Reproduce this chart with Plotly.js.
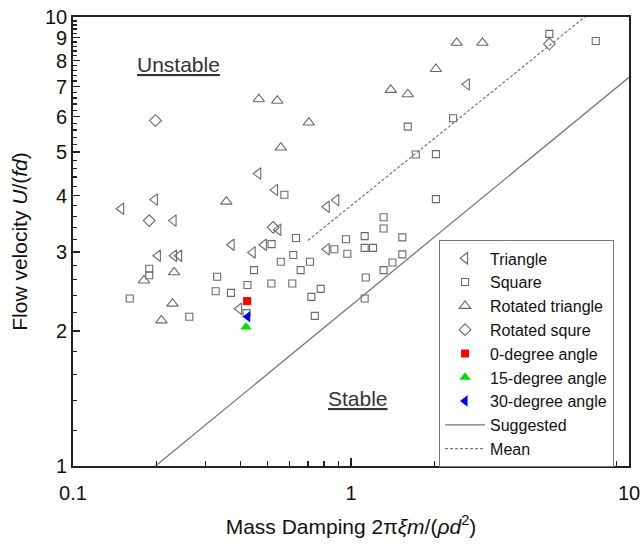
<!DOCTYPE html>
<html>
<head>
<meta charset="utf-8">
<script src="https://cdn.plot.ly/plotly-3.0.1.min.js"></script>
<style>html,body{margin:0;padding:0;background:#fff;}#chart{width:643px;height:544px;}</style>
</head>
<body>
<div id="chart"></div>
<script>
// Triangle (left-pointing)
var triX = [0.149, 0.197, 0.230, 0.202, 0.231, 0.241, 0.464, 0.533, 0.548, 0.372, 0.486, 0.443, 0.818, 0.885, 0.818, 0.396, 2.61];
var triY = [3.74, 3.92, 3.52, 2.94, 2.94, 2.94, 4.48, 4.12, 3.36, 3.11, 3.11, 2.99, 3.78, 3.91, 3.04, 2.24, 7.08];
// Square
var sqX = [0.576, 0.634, 0.959, 0.518, 0.871, 0.970, 0.620, 0.559, 0.712, 0.659, 0.448, 0.188, 0.188, 0.330, 0.424, 0.517, 0.615, 0.326, 0.370, 0.778, 0.720, 0.160, 0.262, 0.741, 0.421, 1.12, 1.31, 1.31, 1.53, 1.12, 1.20, 1.53, 1.41, 1.31, 1.13, 1.12, 2.02, 1.71, 2.02, 1.60, 2.33, 5.17, 7.59];
var sqY = [4.02, 3.22, 3.20, 3.12, 3.04, 2.97, 2.95, 2.85, 2.85, 2.73, 2.73, 2.75, 2.66, 2.64, 2.53, 2.55, 2.55, 2.45, 2.43, 2.48, 2.38, 2.36, 2.15, 2.16, 2.19, 3.25, 3.58, 3.38, 3.23, 3.06, 3.06, 2.96, 2.84, 2.73, 2.63, 2.36, 3.93, 4.94, 4.95, 5.70, 5.95, 9.17, 8.84];
// Rotated triangle
var rtX = [0.466, 0.543, 0.705, 0.559, 0.356, 0.231, 0.180, 0.228, 0.208, 2.40, 2.97, 2.02, 1.39, 1.60];
var rtY = [6.56, 6.51, 5.82, 5.12, 3.88, 2.70, 2.59, 2.30, 2.11, 8.76, 8.76, 7.66, 6.88, 6.73];
// Rotated square
var rsX = [0.198, 0.188, 0.525, 5.17];
var rsY = [5.88, 3.52, 3.40, 8.71];
// Angle cases
var a0X = [0.423], a0Y = [2.33];
var a15X = [0.419], a15Y = [2.04];
var a30X = [0.425], a30Y = [2.15];
// Lines
var sugX = [0.198, 10], sugY = [1, 7.34];
var meanX = [0.70, 6.93], meanY = [3.18, 10];
// Ticks
var xMajor = [0.1, 1, 10], xMajorText = ['0.1', '1', '10'];
var xMinor = [0.2, 0.3, 0.4, 0.5, 0.6, 0.7, 0.8, 0.9, 2, 3, 4, 5, 6, 7, 8, 9];
var yMajor = [1, 2, 3, 4, 5, 6, 7, 8, 9, 10], yMajorText = ['1','2','3','4','5','6','7','8','9','10'];
var yMinor = [1.2,1.4,1.6,1.8,2.2,2.4,2.6,2.8,3.2,3.4,3.6,3.8,4.2,4.4,4.6,4.8,5.2,5.4,5.6,5.8,6.2,6.4,6.6,6.8,7.2,7.4,7.6,7.8,8.2,8.4,8.6,8.8,9.2,9.4,9.6,9.8];

var gray = '#6a6a6a';
function mk(sym, size, color, open) {
  return open ? {symbol: sym, size: size, color: 'rgba(0,0,0,0)', line: {color: color, width: 1.1}}
              : {symbol: sym, size: size, color: color, line: {width: 0}};
}
var traces = [
  {x: triX, y: triY, mode: 'markers', name: 'Triangle', marker: mk('triangle-left', 10, gray, true)},
  {x: sqX, y: sqY, mode: 'markers', name: 'Square', marker: mk('square', 7, gray, true)},
  {x: rtX, y: rtY, mode: 'markers', name: 'Rotated triangle', marker: mk('triangle-up', 10, gray, true)},
  {x: rsX, y: rsY, mode: 'markers', name: 'Rotated squre', marker: mk('diamond', 9, gray, true)},
  {x: a0X, y: a0Y, mode: 'markers', name: '0-degree angle', marker: mk('square', 8, '#ff0000', false)},
  {x: a15X, y: a15Y, mode: 'markers', name: '15-degree angle', marker: mk('triangle-up', 10, '#00e000', false)},
  {x: a30X, y: a30Y, mode: 'markers', name: '30-degree angle', marker: mk('triangle-left', 10, '#0000ff', false)},
  {x: sugX, y: sugY, mode: 'lines', name: 'Suggested', line: {color: '#777', width: 1.3}},
  {x: meanX, y: meanY, mode: 'lines', name: 'Mean', line: {color: '#777', width: 1.2, dash: '3px,2px'}}
];
traces.forEach(function(t){ t.type = 'scatter'; t.cliponaxis = true; });

var fam = 'Liberation Sans, Arial, sans-serif';
var layout = {
  width: 643, height: 544,
  margin: {l: 73, r: 14, t: 17, b: 78},
  paper_bgcolor: '#fff', plot_bgcolor: '#fff',
  showlegend: true,
  font: {family: fam, color: '#111', size: 18},
  xaxis: {
    type: 'log', range: [-1, 1],
    tickmode: 'array', tickvals: xMajor, ticktext: xMajorText,
    ticks: 'inside', ticklen: 8, tickwidth: 1.5, tickcolor: '#222',
    ticklabelstandoff: 8,
    minor: {tickmode: 'array', tickvals: xMinor, ticks: 'inside', ticklen: 5, tickwidth: 1.5, tickcolor: '#222', showgrid: false},
    showline: true, linecolor: '#222', linewidth: 1.8, mirror: true,
    showgrid: false, zeroline: false,
    tickfont: {size: 20, family: fam, color: '#111'},
    title: {text: 'Mass Damping 2π<i>ξm</i>/(<i>ρd</i><sup>2</sup>)', font: {size: 21, family: fam, color: '#111'}, standoff: 16}
  },
  yaxis: {
    type: 'log', range: [0, 1],
    tickmode: 'array', tickvals: yMajor, ticktext: yMajorText,
    ticks: 'inside', ticklen: 7, tickwidth: 1.5, tickcolor: '#222',
    minor: {tickmode: 'array', tickvals: yMinor, ticks: 'inside', ticklen: 4, tickwidth: 1.2, tickcolor: '#222', showgrid: false},
    showline: true, linecolor: '#222', linewidth: 1.8, mirror: true,
    showgrid: false, zeroline: false,
    tickfont: {size: 20, family: fam, color: '#111'},
    title: {text: 'Flow velocity <i>U</i>/(<i>fd</i>)', font: {size: 21, family: fam, color: '#111'}, standoff: 12}
  },
  legend: {
    x: 0.658, y: 0.503, xanchor: 'left', yanchor: 'top',
    bgcolor: '#fff', bordercolor: '#777', borderwidth: 1.2,
    font: {size: 16, family: fam, color: '#111'},
    itemwidth: 40, tracegroupgap: 0
  },
  annotations: [
    {xref: 'paper', yref: 'paper', x: 0.1906, y: 0.8953, xanchor: 'center', yanchor: 'middle', text: '<u>Unstable</u>', showarrow: false, font: {size: 21, family: fam, color: '#333'}},
    {xref: 'paper', yref: 'paper', x: 0.5117, y: 0.1514, xanchor: 'center', yanchor: 'middle', text: '<u>Stable</u>', showarrow: false, font: {size: 21, family: fam, color: '#333'}}
  ]
};
Plotly.newPlot('chart', traces, layout, {displayModeBar: false, staticPlot: true});
</script>
</body>
</html>
